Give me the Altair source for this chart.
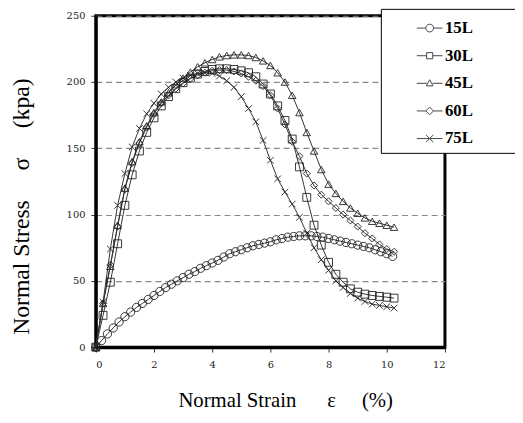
import altair as alt
import pandas as pd

series = ["15L", "30L", "45L", "60L", "75L"]

strain_15 = [0.0, 0.2, 0.4, 0.6, 0.8, 1.0, 1.2, 1.4, 1.6, 1.8, 2.0, 2.2, 2.4, 2.6, 2.8,
             3.0, 3.2, 3.4, 3.6, 3.8, 4.0, 4.2, 4.4, 4.6, 4.8, 5.0, 5.2, 5.4, 5.6, 5.8,
             6.0, 6.2, 6.4, 6.6, 6.8, 7.0, 7.2, 7.4, 7.6, 7.8, 8.0, 8.2, 8.4, 8.6, 8.8,
             9.0, 9.2, 9.4, 9.6, 9.8, 10.0, 10.2]
stress_15 = [0, 5, 10, 14.5, 19, 23, 26.5, 30, 33, 36, 39, 42, 45, 47.5, 50,
             52.5, 55, 57, 59.5, 61.5, 63.5, 65.5, 68, 70.5, 72, 73.5, 75, 76.5, 77.5, 78.5,
             79.5, 81, 82, 83, 83.5, 84, 84, 84, 83.5, 83, 82, 81, 80, 79, 78,
             77, 76, 75, 73.5, 72, 70.5, 68.5]

strain_q = [0.0, 0.25, 0.5, 0.75, 1.0, 1.25, 1.5, 1.75, 2.0, 2.25, 2.5, 2.75, 3.0, 3.25,
            3.5, 3.75, 4.0, 4.25, 4.5, 4.75, 5.0, 5.25, 5.5, 5.75, 6.0, 6.25, 6.5, 6.75,
            7.0, 7.25, 7.5, 7.75, 8.0, 8.25, 8.5, 8.75, 9.0, 9.25, 9.5, 9.75, 10.0, 10.25]
stress_30 = [0, 24, 49, 78, 107, 130, 148, 162, 173, 182, 189, 195, 199.5, 203,
             206, 208, 209.5, 210, 210, 209.5, 208.5, 207, 204, 198.5, 191, 182, 171, 157,
             136, 113, 92, 77, 64, 55, 49, 44, 41.5, 40, 39, 38.3, 37.7, 37]
stress_45 = [0, 33, 61, 92, 120, 140, 155, 167, 177, 185, 192, 198, 203, 207.5,
             211.5, 214.5, 217, 219, 220, 220.5, 220.5, 220, 218.5, 216, 212.5, 207, 200, 190,
             177, 162, 148, 134, 123, 116, 110, 105, 101, 97.5, 95, 93.5, 92, 90.5]
stress_60 = [0, 33, 62, 91, 119, 139, 154, 166, 176, 184, 190, 195, 199, 202.5,
             205, 207, 208.5, 209, 209, 208, 206.5, 204, 201, 197, 190, 180, 168, 155,
             144, 131, 122, 115, 110, 105, 100, 95.5, 91, 86, 82, 77.5, 74, 72]
stress_75 = [0, 34, 74, 107, 131, 151, 165, 176, 184, 191, 196, 200, 203, 205,
             206.5, 207, 206.5, 204.5, 201, 196, 189, 180, 170, 156, 141, 127, 117, 108,
             98, 86, 75, 66, 58, 50, 45, 40.5, 37, 34.5, 32.5, 31.5, 30.5, 29.5]

x_ticks = [0, 2, 4, 6, 8, 10, 12]
y_ticks = [0, 50, 100, 150, 200, 250]

rows = []
for name, xs, ys in [("15L", strain_15, stress_15), ("30L", strain_q, stress_30),
                     ("45L", strain_q, stress_45), ("60L", strain_q, stress_60),
                     ("75L", strain_q, stress_75)]:
    for i, (a, b) in enumerate(zip(xs, ys)):
        rows.append({"series": name, "strain": a, "stress": b, "order": i})
df = pd.DataFrame(rows)

NB = "\u00a0"
x_title = "Normal" + NB + "Strain" + NB * 6 + "ε" + NB * 5 + "(%)"
y_title = "Normal" + NB + "Stress" + NB * 5 + "σ" + NB * 5 + "(kpa)"

marker_shapes = ["circle", "square", "triangle-up", "diamond",
                 "M-1,-1L1,1M-1,1L1,-1"]
legend_shapes = [
    "M-1,0L-0.3,0M0.3,0L1,0M-0.3,0A0.3,0.3,0,1,0,0.3,0A0.3,0.3,0,1,0,-0.3,0Z",
    "M-1,0L-0.24,0M0.24,0L1,0M-0.24,-0.24L0.24,-0.24L0.24,0.24L-0.24,0.24Z",
    "M-1,0L-0.22,0M0.22,0L1,0M0,-0.28L0.26,0.2L-0.26,0.2Z",
    "M-1,0L-0.3,0M0.3,0L1,0M0,-0.3L0.3,0L0,0.3L-0.3,0Z",
    "M-1,0L1,0M-0.28,-0.28L0.28,0.28M-0.28,0.28L0.28,-0.28",
]

x_enc = alt.X("strain:Q", scale=alt.Scale(domain=[0, 12], nice=False),
              axis=alt.Axis(values=x_ticks, title=x_title, grid=False,
                            titleX=192, titleY=60, titleBaseline="alphabetic",
                            titleAlign="center"))
y_enc = alt.Y("stress:Q", scale=alt.Scale(domain=[0, 250], nice=False),
              axis=alt.Axis(values=y_ticks, title=y_title, grid=True,
                            titleX=-75, titleY=193, titleAngle=270,
                            titleBaseline="middle", titleAlign="center",
                            titleFontSize=24))

lines = alt.Chart(df).mark_line(color="#333333", strokeWidth=1).encode(
    x=x_enc, y=y_enc, detail="series:N", order="order:Q")

points = alt.Chart(df).mark_point(filled=False, color="#222222", strokeWidth=0.9,
                                  opacity=1).encode(
    x=x_enc, y=y_enc,
    shape=alt.Shape("series:N", scale=alt.Scale(domain=series, range=marker_shapes),
                    legend=None),
    size=alt.Size("series:O", scale=alt.Scale(domain=series, range=[70, 45, 55, 60, 70]),
                  legend=None))

legend_layer = alt.Chart(df).transform_filter("false").mark_point(
    filled=False, color="#333333", opacity=1).encode(
    x=x_enc, y=y_enc,
    shape=alt.Shape("series:N", scale=alt.Scale(domain=series, range=legend_shapes),
                    legend=alt.Legend(orient="none", legendX=289, legendY=-7,
                                      title=".", titleOrient="right", titleColor="white",
                                      titleFontSize=8, titlePadding=37,
                                      strokeColor="black", fillColor="white",
                                      padding=6, symbolOffset=30, labelOffset=2,
                                      labelFont="Liberation Serif", labelFontSize=17,
                                      labelFontWeight="bold", labelColor="black",
                                      symbolSize=676, symbolStrokeWidth=1,
                                      symbolStrokeColor="#444444",
                                      symbolFillColor="white", rowPadding=6)))

chart = alt.layer(lines, points, legend_layer).resolve_scale(
    shape="independent", size="independent"
).properties(
    width=354, height=336,
    padding={"left": 89, "top": 5, "right": 71, "bottom": 74},
    autosize=alt.AutoSizeParams(type="none"),
).configure_view(
    stroke="black", strokeWidth=3
).configure_axis(
    domainColor="black", domainWidth=3, tickColor="#333333", tickSize=5,
    labelFont="DejaVu Serif", labelFontSize=10, labelColor="#222222",
    titleFont="Liberation Serif", titleFontSize=21, titleFontWeight="normal",
    titleColor="black", gridColor="#888888", gridDash=[6, 4], gridWidth=1.2
).configure_axisX(labelPadding=8).configure_axisY(labelPadding=6)

chart.save("out.html", embed_options={"renderer": "svg", "actions": False})
